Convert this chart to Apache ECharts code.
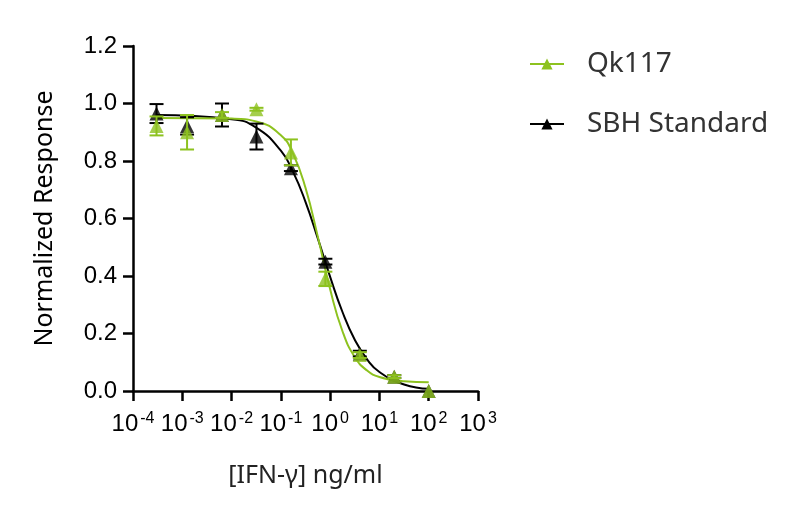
<!DOCTYPE html>
<html>
<head>
<meta charset="utf-8">
<script src="https://cdn.jsdelivr.net/npm/echarts@6/dist/echarts.min.js"></script>
<style>
  html, body { margin: 0; padding: 0; background: #fff; }
  #main { width: 800px; height: 520px; }
</style>
</head>
<body>
<div id="main"></div>
<script>
// 浓度 (ng/ml)
var conc = [0.0003, 0.00125, 0.0064, 0.032, 0.16, 0.8, 4, 20, 100];
// Qk117 测量值与误差
var qkMean = [0.922, 0.90, 0.96, 0.98, 0.83, 0.39, 0.125, 0.05, 0.0];
var qkErr = [0.033, 0.06, 0.01, 0.005, 0.045, 0.025, 0.01, 0.005, 0];
// SBH Standard 测量值与误差
var sbhMean = [0.965, 0.922, 0.96, 0.885, 0.775, 0.45, 0.13, 0.05, 0.0];
var sbhErr = [0.033, 0.03, 0.04, 0.045, 0.01, 0.01, 0.01, 0.005, 0];
// 拟合曲线
var fitX = [0.0003, 0.01, 0.0316, 0.1, 0.178, 0.316, 0.562, 1, 1.78, 3.16, 5.62, 10, 31.6, 100];
var qkFit = [0.95, 0.9475, 0.9376, 0.8897, 0.824, 0.7067, 0.537, 0.3536, 0.2078, 0.118, 0.071, 0.0486, 0.0337, 0.0307];
var sbhFit = [0.9596, 0.9453, 0.916, 0.8358, 0.7613, 0.658, 0.531, 0.397, 0.2748, 0.178, 0.110, 0.066, 0.0224, 0.0074];
var yTicks = ['0.0', '0.2', '0.4', '0.6', '0.8', '1.0', '1.2'];

var green = '#8dc21f';
var black = '#000000';

function pairs(xs, ys) {
    return xs.map(function (x, i) { return [x, ys[i]]; });
}
function errData(xs, ys, es) {
    return xs.map(function (x, i) { return [x, ys[i], es[i]]; });
}

// 误差线
function errBar(color) {
    return function (params, api) {
        var x = api.value(0), y = api.value(1), e = api.value(2);
        if (!e) return;
        var top = api.coord([x, y + e]);
        var bot = api.coord([x, y - e]);
        var w = 7;
        var st = { stroke: color, lineWidth: 2 };
        return {
            type: 'group',
            children: [
                { type: 'line', shape: { x1: top[0], y1: top[1], x2: bot[0], y2: bot[1] }, style: st },
                { type: 'line', shape: { x1: top[0] - w, y1: top[1], x2: top[0] + w, y2: top[1] }, style: st },
                { type: 'line', shape: { x1: bot[0] - w, y1: bot[1], x2: bot[0] + w, y2: bot[1] }, style: st }
            ]
        };
    };
}

var chart = echarts.init(document.getElementById('main'));

var option = {
    animation: false,
    grid: { left: 133, right: 322, top: 46, bottom: 129 },
    legend: {
        orient: 'vertical',
        left: 524,
        top: 45,
        itemWidth: 34,
        itemHeight: 14,
        itemGap: 32,
        data: ['Qk117', 'SBH Standard'],
        textStyle: {
            fontFamily: 'Noto Sans',
            fontSize: 28,
            color: '#333',
            padding: [0, 0, 0, 18]
        }
    },
    xAxis: {
        type: 'log',
        logBase: 10,
        min: 0.0001,
        max: 1000,
        name: '[IFN-γ] ng/ml',
        nameLocation: 'middle',
        nameGap: 72,
        nameTextStyle: { fontFamily: 'Noto Sans', fontSize: 25, color: '#222' },
        axisLine: { onZero: false, lineStyle: { color: '#000', width: 2.5 } },
        axisTick: { length: 10, lineStyle: { color: '#000', width: 2.5 } },
        splitLine: { show: false },
        axisLabel: {
            margin: 20,
            formatter: function (v) {
                var p = Math.round(Math.log10(v));
                return '{b|10}{s|' + p + '}';
            },
            rich: {
                b: { fontFamily: 'Liberation Sans', fontSize: 24, color: '#000' },
                s: { fontFamily: 'Liberation Sans', fontSize: 16, color: '#000', verticalAlign: 'top', padding: [0, 0, 10, 2] }
            }
        }
    },
    yAxis: {
        type: 'value',
        min: 0,
        max: 1.2,
        interval: 0.2,
        name: 'Normalized Response',
        nameLocation: 'middle',
        nameGap: 76,
        nameRotate: 90,
        nameTextStyle: { fontFamily: 'Noto Sans', fontSize: 25, color: '#000' },
        axisLine: { show: true, lineStyle: { color: '#000', width: 2.5 } },
        axisTick: { show: true, length: 10, lineStyle: { color: '#000', width: 2.5 } },
        splitLine: { show: false },
        axisLabel: {
            margin: 16,
            fontFamily: 'Liberation Sans',
            fontSize: 24,
            color: '#000',
            formatter: function (v) { return yTicks[Math.round(v / 0.2)]; }
        }
    },
    series: [
        {
            name: 'SBH Standard',
            type: 'line',
            data: pairs(fitX, sbhFit),
            smooth: true,
            symbol: 'triangle',
            symbolSize: 14,
            showSymbol: false,
            itemStyle: { color: black },
            lineStyle: { color: black, width: 2 },
            z: 2
        },
        {
            name: 'Qk117',
            type: 'line',
            data: pairs(fitX, qkFit),
            smooth: true,
            symbol: 'triangle',
            symbolSize: 14,
            showSymbol: false,
            itemStyle: { color: green },
            lineStyle: { color: green, width: 2 },
            z: 2
        },
        {
            type: 'custom',
            renderItem: errBar(black),
            data: errData(conc, sbhMean, sbhErr),
            z: 3
        },
        {
            type: 'scatter',
            symbol: 'triangle',
            symbolSize: 14,
            data: pairs(conc, sbhMean),
            itemStyle: { color: black },
            z: 4
        },
        {
            type: 'custom',
            renderItem: errBar(green),
            data: errData(conc, qkMean, qkErr),
            z: 5
        },
        {
            type: 'scatter',
            symbol: 'triangle',
            symbolSize: 14,
            data: pairs(conc, qkMean),
            itemStyle: { color: green },
            z: 6
        }
    ]
};

chart.setOption(option);
</script>
</body>
</html>
